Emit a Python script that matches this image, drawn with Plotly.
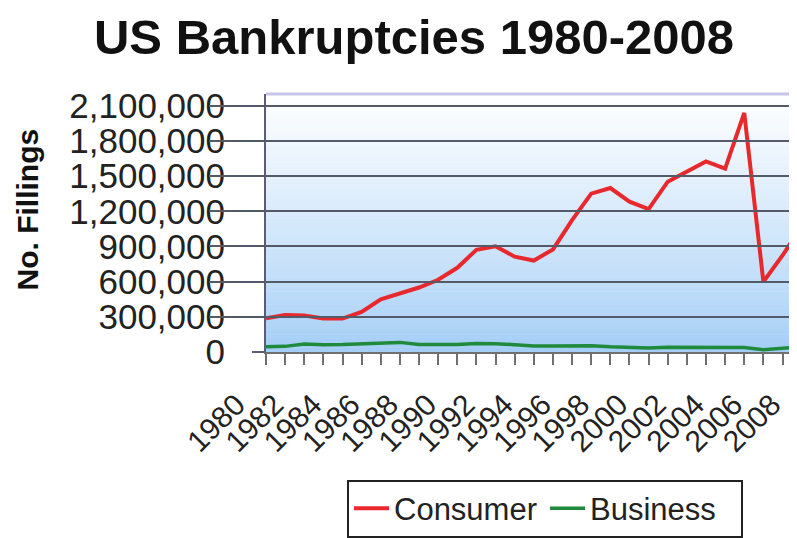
import plotly.graph_objects as go

# ---- data ----
years = list(range(1980, 2009))
consumer = [288000, 316000, 311000, 286000, 285000, 341000, 449000, 496000, 550000, 616000,
            718000, 872000, 901000, 813000, 780000, 875000, 1125000, 1350000, 1398000, 1282000,
            1218000, 1452000, 1539000, 1625000, 1563000, 2039000, 598000, 823000, 1074000]
business = [44000, 48000, 69000, 62000, 64000, 71000, 81000, 82000, 64000, 63000,
            65000, 72000, 71000, 62000, 52000, 52000, 54000, 54000, 44000, 38000,
            35000, 40000, 39000, 35000, 34000, 39000, 20000, 28000, 44000]
y_ticks = [0, 300000, 600000, 900000, 1200000, 1500000, 1800000, 2100000]
x_label_years = list(range(1980, 2009, 2))

# ---- geometry / style (screen px, page has an 8px body margin) ----
OFF = 8
W, H = 797 - OFF, 538 - OFF
plot_left, plot_top, plot_bottom = 266 - OFF, 94 - OFF, 352 - OFF
px_per_year = 19.13
FONT = "Liberation Sans, Arial, sans-serif"

x_end = years[0] + (W - plot_left) / px_per_year
label_shift = 1.55         # labels sit left of their tick
extra_left = 3             # extra years of domain for the label axis
x2_left_px = plot_left - extra_left * px_per_year

fig = go.Figure()
fig.add_trace(go.Scatter(x=years, y=consumer, name="Consumer", mode="lines",
                         line=dict(color="#e8282c", width=4)))
fig.add_trace(go.Scatter(x=years, y=business, name="Business", mode="lines",
                         line=dict(color="#1f8a3c", width=3.5)))
# empty helper trace so the tick-label axis is drawn
fig.add_trace(go.Scatter(x=[], y=[], xaxis="x2", yaxis="y", showlegend=False,
                         hoverinfo="skip", mode="lines"))

# gradient background of plot area
N = 60
top_rgb = (255, 255, 255)
bot_rgb = (162, 205, 246)
shapes = []
for i in range(N):
    t = (i + 0.5) / N  # 0 at bottom
    t = t ** 0.85
    c = tuple(round(bot_rgb[k] + (top_rgb[k] - bot_rgb[k]) * t) for k in range(3))
    shapes.append(dict(type="rect", xref="x domain", yref="y domain",
                       x0=0, x1=1, y0=i / N, y1=(i + 1) / N + 0.002,
                       fillcolor="rgb(%d,%d,%d)" % c, line=dict(width=0), layer="below"))
shapes.append(dict(type="line", xref="x domain", yref="y domain", x0=0, x1=1, y0=1, y1=1,
                   line=dict(color="#c6c6ea", width=3), layer="above"))

fig.update_layout(
    width=W, height=H,
    margin=dict(l=0, r=0, t=plot_top, b=H - plot_bottom, pad=0, autoexpand=False),
    paper_bgcolor="white", plot_bgcolor="rgba(0,0,0,0)",
    font=dict(family=FONT, color="#222222"),
    title=dict(text="<b>US Bankruptcies 1980-2008</b>", font=dict(size=49, color="#111111", family=FONT),
               x=(414 - OFF) / W, xanchor="center", xref="container",
               y=1 - 12 / H, yanchor="top", yref="container"),
    xaxis=dict(domain=[plot_left / W, 1], range=[years[0], x_end], dtick=1, tick0=1980,
               automargin=False,
               showgrid=False, zeroline=False, showline=True, linecolor="#707070", linewidth=2,
               ticks="outside", ticklen=11, tickwidth=2, tickcolor="#707070",
               showticklabels=False),
    xaxis2=dict(domain=[x2_left_px / W, 1], anchor="y", automargin=False,
                range=[years[0] - extra_left + label_shift, x_end + label_shift],
                tickvals=x_label_years, ticktext=[str(v) for v in x_label_years],
                tickangle=-45, tickfont=dict(size=30, family=FONT, color="#222222"),
                ticklabeloverflow="allow",
                showgrid=False, zeroline=False, showline=False, ticks="", ticklabelstandoff=28),
    yaxis=dict(range=[0, 2200000], tickvals=y_ticks, automargin=False,
               ticktext=["{:,}".format(v) for v in y_ticks],
               tickfont=dict(size=35, family=FONT, color="#222222"),
               showgrid=True, gridcolor="#555a68", gridwidth=2, zeroline=False,
               showline=True, linecolor="#5c5c7a", linewidth=2,
               ticks="outside", ticklen=12, tickwidth=2, tickcolor="#5c5c7a",
               ticklabelstandoff=20),
    shapes=shapes,
    showlegend=True,
    legend=dict(orientation="h", xref="container", yref="container",
                x=(545 - OFF) / W, xanchor="center", y=0.5 / H, yanchor="bottom",
                bordercolor="#222222", borderwidth=2, bgcolor="white",
                itemwidth=35, entrywidth=146, entrywidthmode="pixels",
                font=dict(size=31, family=FONT, color="#222222")),
    annotations=[dict(text="<b>No. Fillings</b>", textangle=-90, xref="paper", yref="paper",
                      x=0, y=(plot_bottom - (210 - OFF)) / (plot_bottom - plot_top),
                      xanchor="left", yanchor="middle", showarrow=False,
                      font=dict(size=30, family=FONT, color="#111111"))],
)

fig.write_html("out.html")
